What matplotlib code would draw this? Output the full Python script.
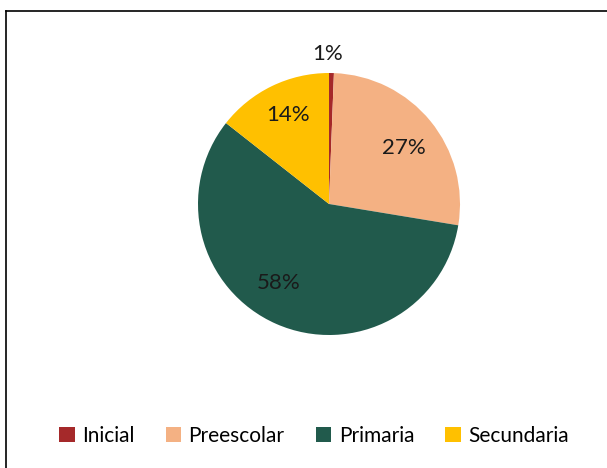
import matplotlib.pyplot as plt
from matplotlib.lines import Line2D

categorias = ['Inicial', 'Preescolar', 'Primaria', 'Secundaria']
valores = [0.6, 27.0, 58.0, 14.4]
colores = ['#A5292A', '#F4B183', '#215A4C', '#FFC000']

plt.rcParams['font.family'] = ['Lato', 'DejaVu Sans']

fig = plt.figure(figsize=(6.07, 4.68), dpi=100)
W, H = 607, 468
cx, cy, r = 329, 204, 131
ax = fig.add_axes([(cx - r) / W, (H - cy - r) / H, 2 * r / W, 2 * r / H])

wedges, textos, pcts = ax.pie(
    valores,
    colors=colores,
    startangle=90,
    counterclock=False,
    autopct=lambda p: f'{p:.0f}%',
    pctdistance=0.72,
    wedgeprops=dict(linewidth=0),
    textprops=dict(fontsize=16, color='#1a1a1a'),
)
# posiciones de etiquetas estilo Excel ("ajuste perfecto")
pos_etiquetas = [(-0.008, 1.145), (0.573, 0.427), (-0.382, -0.603), (-0.313, 0.679)]
for t, p in zip(pcts, pos_etiquetas):
    t.set_position(p)
ax.set_xlim(-1, 1)
ax.set_ylim(-1, 1)
ax.set_aspect('equal')

fig.legend(
    wedges, categorias,
    loc='center', bbox_to_anchor=(314 / W, (H - 436) / H),
    ncol=4, frameon=False, fontsize=15,
    handlelength=0.75, handleheight=0.75, handletextpad=0.35,
    columnspacing=1.5,
)

# borde del gráfico (recortado)
fig.add_artist(Line2D([6 / W, 6 / W], [0, (H - 11) / H], color='black', lw=1.2))
fig.add_artist(Line2D([6 / W, 1], [(H - 11) / H, (H - 11) / H], color='black', lw=1.2))

fig.savefig('out.png', dpi=100)
